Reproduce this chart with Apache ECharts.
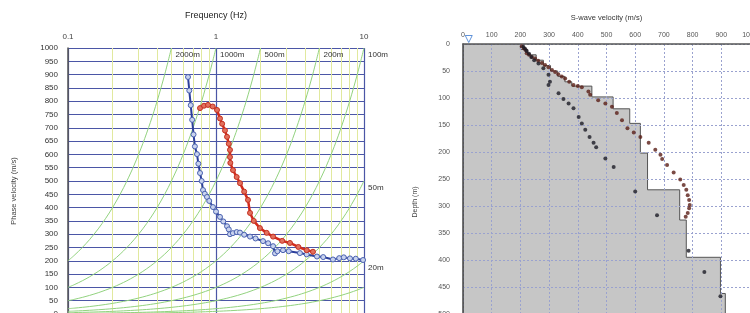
<!DOCTYPE html>
<html lang="en">
<head>
    <meta charset="UTF-8">
    <script type="text/javascript" src="https://cdn.jsdelivr.net/npm/echarts@6/dist/echarts.min.js"></script>
    <style>body{margin:0;background:#fff;}</style>
</head>
<body>
    <div id="main" style="width:750px;height:313px;"></div>

    <script type="text/javascript">
        // ---- left: dispersion curve ----
        var minorFreq = [0.2, 0.3, 0.4, 0.5, 0.6, 0.7, 0.8, 0.9, 2, 3, 4, 5, 6, 7, 8, 9];
        var wavelengths = [2000, 1000, 500, 200, 100, 50, 20, 10];
        var wavelengthLabels = ['2000m', '1000m', '500m', '200m', '100m', '50m', '20m', ''];
        var sampleFreq = [0.1, 0.11, 0.125, 0.14, 0.16, 0.18, 0.2, 0.225, 0.25, 0.28, 0.32, 0.36, 0.4, 0.45, 0.5,
            0.56, 0.63, 0.71, 0.8, 0.9, 1, 1.12, 1.25, 1.4, 1.6, 1.8, 2, 2.25, 2.5, 2.8, 3.2, 3.6, 4, 4.5, 5,
            5.6, 6.3, 7.1, 8, 9, 10];

        var blueFreq = [0.647, 0.66, 0.675, 0.69, 0.705, 0.72, 0.744, 0.76, 0.78, 0.80, 0.817, 0.84, 0.869, 0.90,
            0.954, 1.0, 1.064, 1.12, 1.187, 1.22, 1.243, 1.30, 1.38, 1.453, 1.55, 1.698, 1.85, 2.078, 2.25, 2.43,
            2.505, 2.6, 2.836, 3.1, 3.69, 4.1, 4.81, 5.3, 6.17, 6.8, 7.3, 8.04, 8.8, 9.85];
        var blueVel = [891, 840, 785, 730, 675, 630, 601, 565, 530, 500, 466, 452, 440, 425,
            402, 385, 365, 348, 330, 318, 300, 304, 308, 306, 298, 291, 284, 274, 266, 255,
            228, 236, 240, 236, 229, 224, 216, 214, 205, 210, 213, 209, 208, 203];

        var redFreq = [0.78, 0.83, 0.883, 0.95, 1.016, 1.064, 1.10, 1.15, 1.187, 1.22, 1.243, 1.243, 1.25, 1.303,
            1.38, 1.453, 1.55, 1.645, 1.698, 1.8, 1.98, 2.2, 2.43, 2.8, 3.16, 3.6, 4.1, 4.52];
        var redVel = [774, 783, 786, 780, 767, 735, 715, 690, 666, 640, 617, 590, 568, 541,
            515, 492, 460, 429, 380, 350, 323, 305, 291, 275, 267, 252, 240, 234];

        // ---- right: S-wave velocity profile ----
        var layerTop = [0, 10, 20, 30, 40, 50, 60, 70, 78, 98, 120, 147, 202, 270, 326, 395, 462];
        var layerVs = [200, 225, 255, 280, 305, 330, 355, 379, 449, 523, 581, 618, 643, 755, 778, 897, 914];
        var maxDepth = 500;

        var upperVs = [205, 212, 218, 222, 230, 240, 251, 262, 275, 286, 298, 310, 321, 332, 344, 356, 370, 385,
            400, 414, 437, 443, 471, 496, 519, 536, 554, 573, 595, 618, 647, 670, 688, 694, 711, 734, 757, 769,
            778, 783, 788, 790, 788, 783, 776];
        var upperDepth = [4, 8, 11, 17, 20, 24, 27, 31, 35, 39, 43, 48, 52, 56, 60, 64, 70, 76,
            78, 80, 88, 94, 104, 110, 116, 128, 141, 156, 164, 172, 183, 196, 205, 213, 224, 238, 251, 261,
            270, 280, 289, 298, 304, 313, 320];
        var lowerVs = [210, 216, 222, 230, 238, 248, 263, 280, 298, 303, 298, 333, 350, 368, 385, 403, 414, 426,
            441, 455, 464, 496, 525, 600, 676, 786, 841, 897];
        var lowerDepth = [5, 9, 13, 18, 24, 30, 36, 45, 57, 70, 76, 91, 102, 110, 119, 135, 147, 159,
            172, 183, 191, 212, 228, 273, 317, 383, 422, 467];
        var waterTable = [[20, 0]];

        function pairs(xs, ys) {
            var out = [];
            for (var i = 0; i < xs.length; i++) out.push([xs[i], ys[i]]);
            return out;
        }

        function wavelengthData(lambda) {
            var out = [];
            sampleFreq.forEach(function (f) {
                if (f * lambda < 1000) out.push([f, f * lambda]);
            });
            var fTop = 1000 / lambda;
            if (fTop >= 0.1 && fTop <= 10) out.push([fTop, 1000]);
            return out;
        }

        function plain(v) { return String(v); }

        var font = 'Liberation Sans';
        var myChart = echarts.init(document.getElementById('main'));

        var series = [];
        // yellow log minor lines
        series.push({
            type: 'line', xAxisIndex: 0, yAxisIndex: 0, data: [], silent: true,
            markLine: {
                z: 0, symbol: 'none', silent: true, animation: false,
                label: {show: false},
                lineStyle: {color: '#e1e99e', type: 'solid', width: 1},
                data: minorFreq.map(function (f) { return {xAxis: f}; })
            }
        });
        wavelengths.forEach(function (lambda, i) {
            series.push({
                type: 'line', xAxisIndex: 0, yAxisIndex: 0, z: 2,
                data: wavelengthData(lambda),
                smooth: 0.3, showSymbol: false, silent: true,
                lineStyle: {color: '#92d27f', width: 1},
                endLabel: {
                    show: wavelengthLabels[i] !== '', formatter: wavelengthLabels[i],
                    color: '#333', fontSize: 8, fontFamily: font, distance: 4, offset: [0, 7]
                }
            });
        });
        series.push({
            name: 'blue', type: 'line', xAxisIndex: 0, yAxisIndex: 0, z: 4,
            data: pairs(blueFreq, blueVel),
            symbol: 'circle', symbolSize: 5,
            lineStyle: {color: '#2c3f9c', width: 2},
            itemStyle: {color: '#c9d3ee', borderColor: '#4a62b0', borderWidth: 1}
        });
        series.push({
            name: 'red', type: 'line', xAxisIndex: 0, yAxisIndex: 0, z: 5,
            data: pairs(redFreq, redVel),
            symbol: 'circle', symbolSize: 5,
            lineStyle: {color: '#d42a1c', width: 2.5},
            itemStyle: {color: '#e2705e', borderColor: '#c43020', borderWidth: 1}
        });
        // profile
        series.push({
            type: 'custom', xAxisIndex: 1, yAxisIndex: 1, z: -1, clip: true, silent: true,
            data: [0],
            renderItem: function (params, api) {
                var pts = [api.coord([0, 0])];
                for (var i = 0; i < layerVs.length; i++) {
                    var bottom = i + 1 < layerTop.length ? layerTop[i + 1] : maxDepth;
                    pts.push(api.coord([layerVs[i], layerTop[i]]));
                    pts.push(api.coord([layerVs[i], bottom]));
                }
                pts.push(api.coord([0, maxDepth]));
                return {
                    type: 'polygon', shape: {points: pts},
                    style: {fill: '#c6c6c6', stroke: '#555', lineWidth: 1}
                };
            }
        });
        series.push({
            type: 'scatter', xAxisIndex: 1, yAxisIndex: 1, z: 4,
            data: pairs(upperVs, upperDepth), symbolSize: 4,
            itemStyle: {color: '#5a1e16'}
        });
        series.push({
            type: 'scatter', xAxisIndex: 1, yAxisIndex: 1, z: 4,
            data: pairs(lowerVs, lowerDepth), symbolSize: 4,
            itemStyle: {color: '#1b1b26'}
        });
        series.push({
            type: 'scatter', xAxisIndex: 1, yAxisIndex: 1, z: 5, clip: false,
            data: waterTable, symbol: 'triangle', symbolRotate: 180, symbolSize: 7, symbolOffset: [0, -5],
            itemStyle: {color: '#ffffff', borderColor: '#3a78d0', borderWidth: 1}
        });

        var option = {
            animation: false,
            backgroundColor: '#fff',
            textStyle: {fontFamily: font},
            grid: [
                {left: 68, top: 48, width: 296, height: 266, outerBoundsMode: 'none',
                    show: true, backgroundColor: '#fff', borderWidth: 0},
                {left: 463, top: 44, width: 287, height: 270, outerBoundsMode: 'none'}
            ],
            xAxis: [
                {
                    gridIndex: 0, type: 'log', logBase: 10, min: 0.1, max: 10, position: 'top',
                    name: 'Frequency (Hz)', nameLocation: 'middle', nameGap: 28,
                    nameTextStyle: {fontSize: 9, color: '#222', fontFamily: font},
                    axisLine: {show: true, lineStyle: {color: '#4b56a6', width: 1.5}},
                    axisTick: {show: false},
                    axisLabel: {fontSize: 8, color: '#444', margin: 7, fontFamily: font, formatter: plain},
                    splitLine: {show: true, lineStyle: {color: '#4b56a6', width: 1.2}}
                },
                {
                    gridIndex: 1, type: 'value', min: 0, max: 1000, interval: 100, position: 'top',
                    name: 'S-wave velocity (m/s)', nameLocation: 'middle', nameGap: 22,
                    nameTextStyle: {fontSize: 7.5, color: '#333', fontFamily: font},
                    axisLine: {show: true, lineStyle: {color: '#555', width: 1.5}},
                    axisTick: {show: false},
                    axisLabel: {fontSize: 7, color: '#555', margin: 5, fontFamily: font, formatter: plain},
                    splitLine: {show: true, lineStyle: {color: '#9aa2cf', width: 1, type: [2, 2]}}
                }
            ],
            yAxis: [
                {
                    gridIndex: 0, type: 'value', min: 0, max: 1000, interval: 50,
                    name: 'Phase velocity (m/s)', nameLocation: 'middle', nameGap: 50,
                    nameTextStyle: {fontSize: 7.5, color: '#444', fontFamily: font, padding: [0, 20, 0, 0]},
                    axisLine: {show: true, onZero: false, lineStyle: {color: '#555', width: 1.5}},
                    axisTick: {show: false},
                    axisLabel: {fontSize: 8, color: '#333', margin: 10, fontFamily: font, formatter: plain},
                    splitLine: {show: true, lineStyle: {color: '#4b56a6', width: 1.2}}
                },
                {
                    gridIndex: 1, type: 'value', min: 0, max: maxDepth, interval: 50, inverse: true,
                    name: 'Depth (m)', nameLocation: 'middle', nameGap: 44,
                    nameTextStyle: {fontSize: 7, color: '#444', fontFamily: font, padding: [0, 46, 0, 0]},
                    axisLine: {show: true, onZero: false, lineStyle: {color: '#444', width: 1.5}},
                    axisTick: {show: false},
                    axisLabel: {fontSize: 7, color: '#555', margin: 13, fontFamily: font, formatter: plain},
                    splitLine: {show: true, lineStyle: {color: '#9aa2cf', width: 1, type: [2, 2]}}
                }
            ],
            series: series
        };
        myChart.setOption(option);
    </script>
</body>
</html>
